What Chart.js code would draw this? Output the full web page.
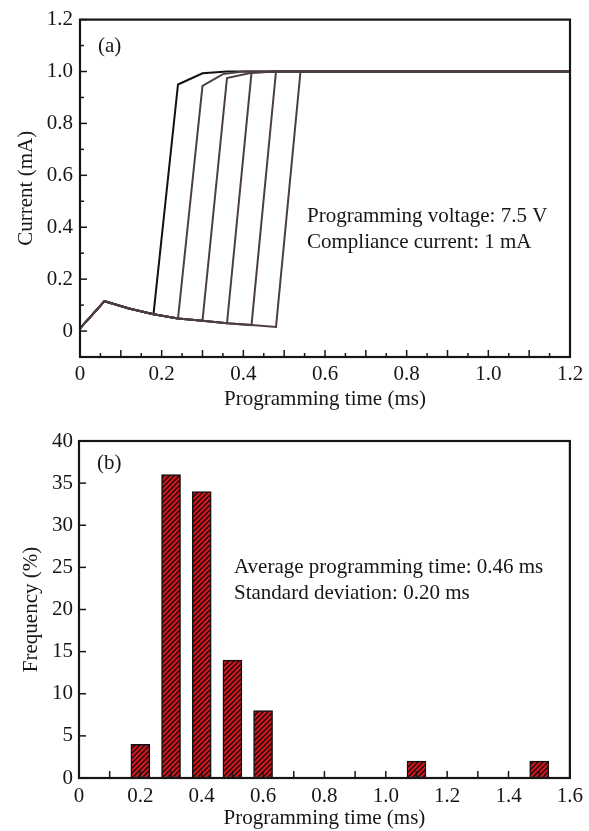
<!DOCTYPE html>
<html><head><meta charset="utf-8">
<script src="https://cdn.jsdelivr.net/npm/chart.js@4/dist/chart.umd.min.js"></script>
<style>
html,body{margin:0;padding:0;background:#fff;}
#a{position:absolute;left:0;top:0;width:589px;height:415px;}
#b{position:absolute;left:0;top:420px;width:589px;height:411px;}
</style></head><body>
<div id="a"><canvas id="ca"></canvas></div>
<div id="b"><canvas id="cb"></canvas></div>
<script>
// ---------- Panel (a) data ----------
const curve1X = [0, 0.06, 0.12, 0.18, 0.24, 0.30, 0.36, 1.2];
const curve1Y = [0.01, 0.115, 0.087, 0.065, 0.95, 0.993, 1.0, 1.0];
const curve2X = [0, 0.06, 0.12, 0.18, 0.24, 0.30, 0.35, 0.40, 1.2];
const curve2Y = [0.01, 0.115, 0.087, 0.065, 0.048, 0.945, 0.99, 1.0, 1.0];
const curve3X = [0, 0.06, 0.12, 0.18, 0.24, 0.30, 0.36, 0.42, 0.48, 1.2];
const curve3Y = [0.01, 0.115, 0.087, 0.065, 0.048, 0.04, 0.975, 0.995, 1.0, 1.0];
const curve4X = [0, 0.06, 0.12, 0.18, 0.24, 0.30, 0.36, 0.42, 0.48, 1.2];
const curve4Y = [0.01, 0.115, 0.087, 0.065, 0.048, 0.04, 0.03, 0.995, 1.0, 1.0];
const curve5X = [0, 0.06, 0.12, 0.18, 0.24, 0.30, 0.36, 0.42, 0.48, 1.2];
const curve5Y = [0.01, 0.115, 0.087, 0.065, 0.048, 0.04, 0.03, 0.023, 1.0, 1.0];
const curve6X = [0, 0.06, 0.12, 0.18, 0.24, 0.30, 0.36, 0.42, 0.48, 0.54, 0.60, 1.2];
const curve6Y = [0.01, 0.115, 0.087, 0.065, 0.048, 0.04, 0.03, 0.023, 0.016, 1.0, 1.0, 1.0];
const xTicksA = [0, 0.2, 0.4, 0.6, 0.8, 1.0, 1.2];
const xTickLabelsA = ['0', '0.2', '0.4', '0.6', '0.8', '1.0', '1.2'];
const yTicksA = [0, 0.2, 0.4, 0.6, 0.8, 1.0, 1.2];
const yTickLabelsA = ['0', '0.2', '0.4', '0.6', '0.8', '1.0', '1.2'];

// ---------- Panel (b) data ----------
const binCenters = [0.2, 0.3, 0.4, 0.5, 0.6, 1.1, 1.5];
const frequency = [4, 36, 34, 14, 8, 2, 2];
const xTicksB = [0, 0.2, 0.4, 0.6, 0.8, 1.0, 1.2, 1.4, 1.6];
const xTickLabelsB = ['0', '0.2', '0.4', '0.6', '0.8', '1.0', '1.2', '1.4', '1.6'];
const yTicksB = [0, 5, 10, 15, 20, 25, 30, 35, 40];
const yTickLabelsB = ['0', '5', '10', '15', '20', '25', '30', '35', '40'];

const FONT = '"Liberation Serif", "Times New Roman", serif';
const INK = '#161616';

function range(a, b, s) { const r = []; for (let v = a; v <= b + 1e-9; v += s) r.push(+v.toFixed(4)); return r; }

const framePlugin = {
  id: 'frame',
  afterDraw(chart, args, o) {
    const ctx = chart.ctx, ca = chart.chartArea;
    const xs = chart.scales.x, ys = chart.scales.y;
    ctx.save();
    ctx.strokeStyle = INK;
    ctx.lineWidth = 1.5;
    const drawX = (vals, len) => vals.forEach(v => {
      const p = xs.getPixelForValue(v);
      ctx.beginPath(); ctx.moveTo(p, ca.bottom); ctx.lineTo(p, ca.bottom - len); ctx.stroke();
    });
    const drawY = (vals, len) => vals.forEach(v => {
      const p = ys.getPixelForValue(v);
      ctx.beginPath(); ctx.moveTo(ca.left, p); ctx.lineTo(ca.left + len, p); ctx.stroke();
    });
    drawX(o.xMinor, 4); drawX(o.xMajor, 7);
    drawY(o.yMinor, 4); drawY(o.yMajor, 7);
    ctx.lineWidth = 2.2;
    ctx.strokeRect(ca.left, ca.top, ca.right - ca.left, ca.bottom - ca.top);
    ctx.fillStyle = INK;
    ctx.font = '21px ' + FONT;
    ctx.textBaseline = 'middle';
    ctx.textAlign = 'left';
    o.texts.forEach(t => ctx.fillText(t[0], ca.left + t[1], ca.top + t[2]));
    ctx.restore();
  }
};

function mkDataset(xs, ys, color) {
  return {
    data: xs.map((x, i) => ({ x: x, y: ys[i] })),
    showLine: true, borderColor: color, borderWidth: 2, pointRadius: 0, tension: 0, fill: false
  };
}

const tickFont = { family: FONT, size: 21 };

new Chart(document.getElementById('ca'), {
  type: 'scatter',
  data: {
    datasets: [
      mkDataset(curve6X, curve6Y, '#4d3f3f'),
      mkDataset(curve5X, curve5Y, '#4d3f3f'),
      mkDataset(curve4X, curve4Y, '#4d3f3f'),
      mkDataset(curve3X, curve3Y, '#4d3f3f'),
      mkDataset(curve2X, curve2Y, '#4d3f3f'),
      mkDataset(curve1X, curve1Y, '#111111')
    ]
  },
  options: {
    responsive: true, maintainAspectRatio: false, animation: false,
    layout: { padding: { top: 18, right: 19, left: 0, bottom: 0 } },
    plugins: {
      legend: { display: false }, tooltip: { enabled: false },
      frame: {
        xMajor: range(0, 1.2, 0.1), xMinor: range(0.05, 1.15, 0.1),
        yMajor: range(0, 1.2, 0.2), yMinor: range(-0.1, 1.1, 0.2),
        texts: [['(a)', 18, 27], ['Programming voltage: 7.5 V', 227, 197], ['Compliance current: 1 mA', 227, 223]]
      }
    },
    scales: {
      x: {
        type: 'linear', min: 0, max: 1.2,
        afterBuildTicks: s => { s.ticks = xTicksA.map(v => ({ value: v })); },
        afterFit: s => { s.height = 58; },
        ticks: { font: tickFont, color: INK, padding: 5, autoSkip: false, maxRotation: 0,
          callback: (v, i) => xTickLabelsA[i] },
        grid: { display: false, drawTicks: false }, border: { display: false },
        title: { display: true, text: 'Programming time (ms)', font: tickFont, color: INK, padding: { top: 0, bottom: 3 } }
      },
      y: {
        type: 'linear', min: -0.1, max: 1.2,
        afterBuildTicks: s => { s.ticks = yTicksA.map(v => ({ value: v })); },
        afterFit: s => { s.width = 80; },
        ticks: { font: tickFont, color: INK, padding: 7, autoSkip: false,
          callback: (v, i) => yTickLabelsA[i] },
        grid: { display: false, drawTicks: false }, border: { display: false },
        title: { display: true, text: 'Current (mA)', font: tickFont, color: INK, padding: { top: 14, bottom: 0 } }
      }
    }
  },
  plugins: [framePlugin]
});

// hatch pattern
function hatch() {
  const c = document.createElement('canvas');
  c.width = 5; c.height = 5;
  const g = c.getContext('2d');
  g.fillStyle = '#d4171f';
  g.fillRect(0, 0, 5, 5);
  g.strokeStyle = '#1a0a0a';
  g.lineWidth = 1.4;
  g.beginPath();
  g.moveTo(-1, 6); g.lineTo(6, -1);
  g.moveTo(-1, 1); g.lineTo(1, -1);
  g.moveTo(4, 6); g.lineTo(6, 4);
  g.stroke();
  return g.createPattern(c, 'repeat');
}

new Chart(document.getElementById('cb'), {
  type: 'bar',
  data: {
    datasets: [{
      data: binCenters.map((x, i) => ({ x: x, y: frequency[i] })),
      backgroundColor: hatch(), borderColor: '#111', borderWidth: 1.5, borderSkipped: false,
      barThickness: 19
    }]
  },
  options: {
    responsive: true, maintainAspectRatio: false, animation: false,
    layout: { padding: { top: 21, right: 19, left: 0, bottom: 0 } },
    plugins: {
      legend: { display: false }, tooltip: { enabled: false },
      frame: {
        xMajor: range(0, 1.6, 0.1), xMinor: [],
        yMajor: range(0, 40, 5), yMinor: [],
        texts: [['(b)', 18, 22], ['Average programming time: 0.46 ms', 155, 126], ['Standard deviation: 0.20 ms', 155, 152]]
      }
    },
    scales: {
      x: {
        type: 'linear', min: 0, max: 1.6, offset: false,
        afterBuildTicks: s => { s.ticks = xTicksB.map(v => ({ value: v })); },
        afterFit: s => { s.height = 53; },
        ticks: { font: tickFont, color: INK, padding: 6, autoSkip: false, maxRotation: 0,
          callback: (v, i) => xTickLabelsB[i] },
        grid: { display: false, drawTicks: false, offset: false }, border: { display: false },
        title: { display: true, text: 'Programming time (ms)', font: tickFont, color: INK, padding: { top: 0, bottom: 0 } }
      },
      y: {
        type: 'linear', min: 0, max: 40,
        afterBuildTicks: s => { s.ticks = yTicksB.map(v => ({ value: v })); },
        afterFit: s => { s.width = 79; },
        ticks: { font: tickFont, color: INK, padding: 6, autoSkip: false,
          callback: (v, i) => yTickLabelsB[i] },
        grid: { display: false, drawTicks: false }, border: { display: false },
        title: { display: true, text: 'Frequency (%)', font: tickFont, color: INK, padding: { top: 19, bottom: 0 } }
      }
    }
  },
  plugins: [framePlugin]
});
</script>
</body></html>
